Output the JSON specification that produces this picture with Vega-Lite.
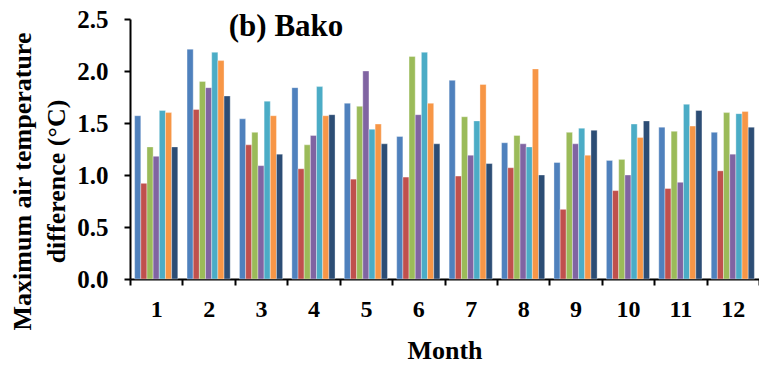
{
  "$schema": "https://vega.github.io/schema/vega-lite/v6.json",
  "width": 629,
  "height": 260,
  "autosize": "none",
  "padding": {"left": 130, "top": 19, "right": 0, "bottom": 87},
  "background": "white",
  "layer": [
    {
      "data": {
        "values": [
          {"month": 1, "series": "s1", "value": 1.57}, {"month": 1, "series": "s2", "value": 0.92}, {"month": 1, "series": "s3", "value": 1.27}, {"month": 1, "series": "s4", "value": 1.18}, {"month": 1, "series": "s5", "value": 1.62}, {"month": 1, "series": "s6", "value": 1.60}, {"month": 1, "series": "s7", "value": 1.27},
          {"month": 2, "series": "s1", "value": 2.21}, {"month": 2, "series": "s2", "value": 1.63}, {"month": 2, "series": "s3", "value": 1.90}, {"month": 2, "series": "s4", "value": 1.84}, {"month": 2, "series": "s5", "value": 2.18}, {"month": 2, "series": "s6", "value": 2.10}, {"month": 2, "series": "s7", "value": 1.76},
          {"month": 3, "series": "s1", "value": 1.54}, {"month": 3, "series": "s2", "value": 1.29}, {"month": 3, "series": "s3", "value": 1.41}, {"month": 3, "series": "s4", "value": 1.09}, {"month": 3, "series": "s5", "value": 1.71}, {"month": 3, "series": "s6", "value": 1.57}, {"month": 3, "series": "s7", "value": 1.20},
          {"month": 4, "series": "s1", "value": 1.84}, {"month": 4, "series": "s2", "value": 1.06}, {"month": 4, "series": "s3", "value": 1.29}, {"month": 4, "series": "s4", "value": 1.38}, {"month": 4, "series": "s5", "value": 1.85}, {"month": 4, "series": "s6", "value": 1.57}, {"month": 4, "series": "s7", "value": 1.58},
          {"month": 5, "series": "s1", "value": 1.69}, {"month": 5, "series": "s2", "value": 0.96}, {"month": 5, "series": "s3", "value": 1.66}, {"month": 5, "series": "s4", "value": 2.00}, {"month": 5, "series": "s5", "value": 1.44}, {"month": 5, "series": "s6", "value": 1.49}, {"month": 5, "series": "s7", "value": 1.30},
          {"month": 6, "series": "s1", "value": 1.37}, {"month": 6, "series": "s2", "value": 0.98}, {"month": 6, "series": "s3", "value": 2.14}, {"month": 6, "series": "s4", "value": 1.58}, {"month": 6, "series": "s5", "value": 2.18}, {"month": 6, "series": "s6", "value": 1.69}, {"month": 6, "series": "s7", "value": 1.30},
          {"month": 7, "series": "s1", "value": 1.91}, {"month": 7, "series": "s2", "value": 0.99}, {"month": 7, "series": "s3", "value": 1.56}, {"month": 7, "series": "s4", "value": 1.19}, {"month": 7, "series": "s5", "value": 1.52}, {"month": 7, "series": "s6", "value": 1.87}, {"month": 7, "series": "s7", "value": 1.11},
          {"month": 8, "series": "s1", "value": 1.31}, {"month": 8, "series": "s2", "value": 1.07}, {"month": 8, "series": "s3", "value": 1.38}, {"month": 8, "series": "s4", "value": 1.30}, {"month": 8, "series": "s5", "value": 1.27}, {"month": 8, "series": "s6", "value": 2.02}, {"month": 8, "series": "s7", "value": 1.00},
          {"month": 9, "series": "s1", "value": 1.12}, {"month": 9, "series": "s2", "value": 0.67}, {"month": 9, "series": "s3", "value": 1.41}, {"month": 9, "series": "s4", "value": 1.30}, {"month": 9, "series": "s5", "value": 1.45}, {"month": 9, "series": "s6", "value": 1.19}, {"month": 9, "series": "s7", "value": 1.43},
          {"month": 10, "series": "s1", "value": 1.14}, {"month": 10, "series": "s2", "value": 0.85}, {"month": 10, "series": "s3", "value": 1.15}, {"month": 10, "series": "s4", "value": 1.00}, {"month": 10, "series": "s5", "value": 1.49}, {"month": 10, "series": "s6", "value": 1.36}, {"month": 10, "series": "s7", "value": 1.52},
          {"month": 11, "series": "s1", "value": 1.46}, {"month": 11, "series": "s2", "value": 0.87}, {"month": 11, "series": "s3", "value": 1.42}, {"month": 11, "series": "s4", "value": 0.93}, {"month": 11, "series": "s5", "value": 1.68}, {"month": 11, "series": "s6", "value": 1.47}, {"month": 11, "series": "s7", "value": 1.62},
          {"month": 12, "series": "s1", "value": 1.41}, {"month": 12, "series": "s2", "value": 1.04}, {"month": 12, "series": "s3", "value": 1.60}, {"month": 12, "series": "s4", "value": 1.20}, {"month": 12, "series": "s5", "value": 1.59}, {"month": 12, "series": "s6", "value": 1.61}, {"month": 12, "series": "s7", "value": 1.46}
        ]
      },
      "mark": {"type": "bar", "stroke": "white", "strokeWidth": 0.5, "strokeOpacity": 0.7},
      "encoding": {
        "x": {
          "field": "month",
          "type": "ordinal",
          "sort": "ascending",
          "scale": {"paddingInner": 0, "paddingOuter": 0},
          "axis": {
            "title": "Month",
            "titleFont": "Liberation Serif",
            "titleFontSize": 26,
            "titleFontWeight": "bold",
            "titleColor": "black",
            "titleY": 79,
            "titleBaseline": "alphabetic",
            "labelFont": "Liberation Serif",
            "labelFontSize": 24,
            "labelFontWeight": "bold",
            "labelColor": "black",
            "labelAngle": 0,
            "labelPadding": 12,
            "tickBand": "extent",
            "tickSize": 6,
            "tickWidth": 2,
            "tickColor": "black",
            "domainColor": "black",
            "domainWidth": 2,
            "grid": false
          }
        },
        "xOffset": {
          "field": "series",
          "type": "nominal",
          "sort": ["s1","s2","s3","s4","s5","s6","s7"],
          "scale": {"paddingInner": 0, "paddingOuter": 0.75}
        },
        "y": {
          "field": "value",
          "type": "quantitative",
          "scale": {"domain": [0, 2.5], "nice": false, "zero": true},
          "axis": {
            "title": ["Maximum air temperature", "difference (°C)"],
            "titleFont": "Liberation Serif",
            "titleFontSize": 26,
            "titleFontWeight": "bold",
            "titleColor": "black",
            "titleLineHeight": 34,
            "titleAngle": -90,
            "titleAlign": "center",
            "titleBaseline": "middle",
            "titleX": -108,
            "titleY": 162,
            "values": [0, 0.5, 1, 1.5, 2, 2.5],
            "format": ".1f",
            "labelFont": "Liberation Serif",
            "labelFontSize": 25,
            "labelFontWeight": "bold",
            "labelColor": "black",
            "labelPadding": 16,
            "tickSize": 6,
            "tickWidth": 2,
            "tickColor": "black",
            "domainColor": "black",
            "domainWidth": 2,
            "grid": false
          }
        },
        "color": {
          "field": "series",
          "type": "nominal",
          "scale": {
            "domain": ["s1","s2","s3","s4","s5","s6","s7"],
            "range": ["#4F81BD","#C0504D","#9BBB59","#8064A2","#4BACC6","#F79646","#2C4D75"]
          },
          "legend": null
        }
      }
    },
    {
      "data": {"values": [{"label": "(b) Bako", "month": 3, "value": 2.5}]},
      "mark": {
        "type": "text",
        "font": "Liberation Serif",
        "fontSize": 31,
        "fontWeight": "bold",
        "color": "black",
        "align": "center",
        "baseline": "alphabetic",
        "dx": 25,
        "dy": 17
      },
      "encoding": {
        "x": {"field": "month", "type": "ordinal", "sort": "ascending"},
        "y": {"field": "value", "type": "quantitative"},
        "text": {"field": "label"}
      }
    }
  ],
  "config": {"view": {"stroke": null}}
}
